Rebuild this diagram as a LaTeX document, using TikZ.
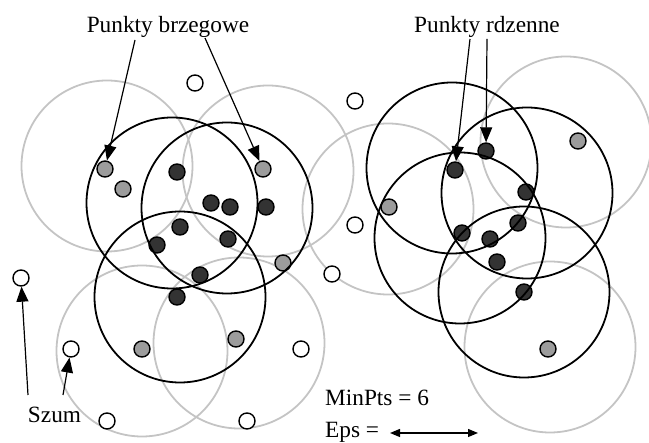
\documentclass[tikz,border=0pt]{standalone}
\usepackage{fontspec}
\setmainfont{Liberation Serif}
\usetikzlibrary{arrows.meta}
\definecolor{ringgray}{HTML}{C4C4C4}
\definecolor{bordergray}{HTML}{9C9C9C}
\definecolor{coredark}{HTML}{333333}
\tikzset{
  ringcore/.style={draw=black, line width=1.8pt},
  ringborder/.style={draw=ringgray, line width=1.8pt},
  pt/.style={circle, draw=black, line width=1.4pt, minimum size=16pt, inner sep=0pt},
  corept/.style={pt, fill=coredark},
  borderpt/.style={pt, fill=bordergray},
  noisept/.style={pt, fill=white},
  lbl/.style={font=\fontsize{23.3}{26}\selectfont, inner sep=0pt, anchor=base},
  pointer/.style={line width=1.2pt, -{Triangle[length=15pt,width=12pt]}},
}
\begin{document}
\begin{tikzpicture}[x=1pt, y=-1pt]
\useasboundingbox (0,0) rectangle (649,443);

% eps-neighbourhoods of border points (grey)
\foreach \cx/\cy in {107/166, 268/171, 388/209, 566/142, 550/347, 142/351, 239/343}
  \draw[ringborder] (\cx,\cy) circle (85.5);

% noise points
\node[noisept] (n1) at (195,83) {};
\node[noisept] (n2) at (355,101) {};
\node[noisept] (n3) at (355,225) {};
\node[noisept] (n4) at (332,274) {};
\node[noisept] (n5) at (21,278) {};
\node[noisept] (n6) at (71,349) {};
\node[noisept] (n7) at (301,349) {};
\node[noisept] (n8) at (107,421) {};
\node[noisept] (n9) at (247,421) {};

% border points
\node[borderpt] (b1) at (105,169) {};
\node[borderpt] (b2) at (123,189) {};
\node[borderpt] (b3) at (263,169) {};
\node[borderpt] (b4) at (283,263) {};
\node[borderpt] (b5) at (142,349) {};
\node[borderpt] (b6) at (236,339) {};
\node[borderpt] (b7) at (389,207) {};
\node[borderpt] (b8) at (578,141) {};
\node[borderpt] (b9) at (548,349) {};

% core points
\node[corept] (c1) at (177,172) {};
\node[corept] (c2) at (211,203) {};
\node[corept] (c3) at (230,207) {};
\node[corept] (c4) at (266,207) {};
\node[corept] (c5) at (180,227) {};
\node[corept] (c6) at (157,245) {};
\node[corept] (c7) at (228,239) {};
\node[corept] (c8) at (200,275) {};
\node[corept] (c9) at (177,297) {};
\node[corept] (d1) at (486,151) {};
\node[corept] (d2) at (455,170) {};
\node[corept] (d3) at (526,192) {};
\node[corept] (d4) at (518,223) {};
\node[corept] (d5) at (462,233) {};
\node[corept] (d6) at (490,239) {};
\node[corept] (d7) at (497,262) {};
\node[corept] (d8) at (524,292) {};

% eps-neighbourhoods of core points (black)
\foreach \cx/\cy in {172/203, 227/208, 180/297, 452/168, 527/193, 460/238, 524/292}
  \draw[ringcore] (\cx,\cy) circle (85.5);

% labels
\node[lbl] (tb) at (168,33) {Punkty brzegowe};
\node[lbl] (tr) at (487,33) {Punkty rdzenne};
\node[lbl] (ts) at (54.5,423) {Szum};
\node[lbl, anchor=base west] (tm) at (325,406) {MinPts = 6};
\node[lbl, anchor=base west] (te) at (325,437.5) {Eps =};

% pointers
\coordinate (tb1) at (135,40);
\coordinate (tb2) at (205,38);
\coordinate (tr1) at (470,39);
\coordinate (tr2) at (487,39);
\coordinate (ts1) at (28,395);
\coordinate (ts2) at (63,395);
\draw[pointer] (tb1) -- (b1);
\draw[pointer] (tb2) -- (b3);
\draw[pointer] (tr1) -- (d2);
\draw[pointer] (tr2) -- (d1);
\draw[pointer] (ts1) -- (n5);
\draw[pointer] (ts2) -- (n6);

% eps scale bar
\coordinate (e1) at (390,433);
\coordinate (e2) at (478,433);
\draw[line width=1.2pt, {Triangle[length=10pt,width=8pt]}-{Triangle[length=10pt,width=8pt]}] (e1) -- (e2);
\end{tikzpicture}
\end{document}
